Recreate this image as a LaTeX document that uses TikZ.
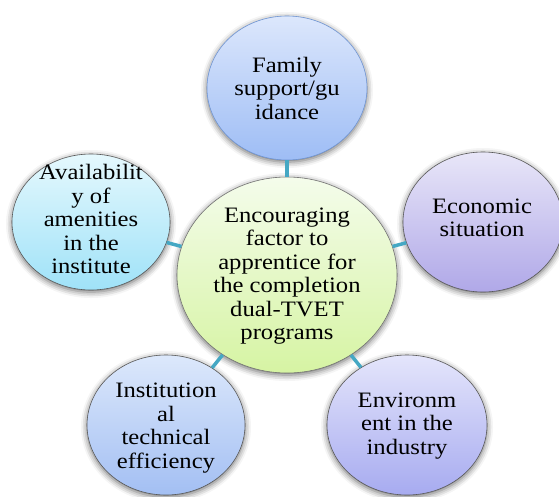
\documentclass[tikz,border=0pt]{standalone}
\usepackage{fontspec}
\setmainfont{Liberation Serif}[FakeStretch=1.12]
\usetikzlibrary{shapes.geometric,shadows.blur}
\definecolor{linkc}{HTML}{45A8C4}
\tikzset{
  bub/.style={ellipse, inner sep=0pt, draw=black!65, line width=0.6pt,
    shading=axis, shading angle=0,
    blur shadow={shadow xshift=0pt, shadow yshift=-2pt, shadow blur radius=6pt, shadow opacity=60}},
  txt/.style={align=center, font=\fontsize{22}{23.5}\selectfont, text=black, inner sep=0pt},
  link/.style={draw=linkc, line width=3.5pt}
}
\begin{document}
\begin{tikzpicture}[x=1pt,y=-1pt]
\useasboundingbox (0,0) rectangle (559,496);
\node[bub, minimum width=220pt, minimum height=196pt, top color={rgb,255:red,244;green,252;blue,235}, bottom color={rgb,255:red,214;green,244;blue,163}, draw=black!55] (C) at (287,275) {};
\node[bub, minimum width=160pt, minimum height=144pt, top color={rgb,255:red,220;green,231;blue,252}, bottom color={rgb,255:red,158;green,189;blue,245}, draw={rgb,255:red,111;green,149;blue,212}] (T) at (287,88) {};
\node[bub, minimum width=158pt, minimum height=136pt, top color={rgb,255:red,229;green,248;blue,253}, bottom color={rgb,255:red,159;green,226;blue,248}] (L) at (91,222) {};
\node[bub, minimum width=160pt, minimum height=140pt, top color={rgb,255:red,232;green,230;blue,248}, bottom color={rgb,255:red,176;green,168;blue,232}] (R) at (483,222) {};
\node[bub, minimum width=158pt, minimum height=140pt, top color={rgb,255:red,220;green,232;blue,251}, bottom color={rgb,255:red,163;green,191;blue,243}] (BL) at (166,425) {};
\node[bub, minimum width=160pt, minimum height=140pt, top color={rgb,255:red,228;green,229;blue,251}, bottom color={rgb,255:red,167;green,171;blue,240}] (BR) at (407,425) {};
\draw[link] (C) -- (T);
\draw[link] (C) -- (L);
\draw[link] (C) -- (R);
\draw[link] (C) -- (BL);
\draw[link] (C) -- (BR);
\node[txt] (Ct) at (287,276) {Encouraging\\factor to\\apprentice for\\the completion\\dual-TVET\\programs};
\node[txt] (Tt) at (287,88) {Family\\support/gu\\idance};
\node[txt] (Lt) at (91,219) {Availabilit\\y of\\amenities\\in the\\institute};
\node[txt] (Rt) at (482,218) {Economic\\situation};
\node[txt] (BLt) at (166,428) {Institution\\al\\technical\\efficiency};
\node[txt] (BRt) at (407,426) {Environm\\ent in the\\industry};
\end{tikzpicture}
\end{document}
